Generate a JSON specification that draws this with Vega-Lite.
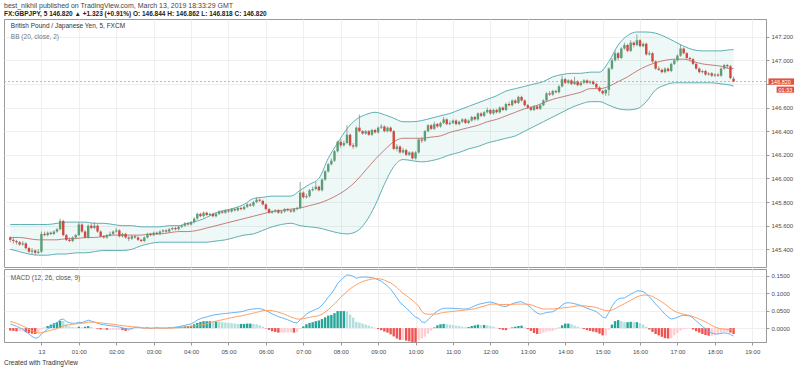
{
"$schema":"https://vega.github.io/schema/vega-lite/v6.json",
"background":"white",
"padding":{"left":3,"top":1,"right":0,"bottom":0},
"spacing":0,
"config":{"font":"Liberation Sans","view":{"stroke":"#9a9a9a","strokeWidth":1},
"axis":{"labelFontSize":6,"labelColor":"#4a4a4a","gridColor":"#efefef","domainColor":"#9a9a9a","tickColor":"#9a9a9a","tickSize":3,"title":null}},
"datasets":{
"c":[
{"m":-50,"o":145.50,"h":145.51,"l":145.46,"c":145.48,"k":0.012,"s":0.019,"g":-0.007},
{"m":-45,"o":145.48,"h":145.50,"l":145.45,"c":145.47,"k":0.009,"s":0.017,"g":-0.008},
{"m":-40,"o":145.47,"h":145.48,"l":145.44,"c":145.46,"k":0.005,"s":0.014,"g":-0.009},
{"m":-35,"o":145.46,"h":145.47,"l":145.43,"c":145.44,"k":0.001,"s":0.010,"g":-0.009},
{"m":-30,"o":145.44,"h":145.47,"l":145.43,"c":145.45,"k":-0.003,"s":0.006,"g":-0.009},
{"m":-25,"o":145.45,"h":145.46,"l":145.40,"c":145.41,"k":-0.010,"s":0.002,"g":-0.012},
{"m":-20,"o":145.41,"h":145.42,"l":145.37,"c":145.38,"k":-0.017,"s":-0.003,"g":-0.014},
{"m":-15,"o":145.38,"h":145.41,"l":145.36,"c":145.39,"k":-0.024,"s":-0.008,"g":-0.016},
{"m":-10,"o":145.39,"h":145.40,"l":145.35,"c":145.37,"k":-0.029,"s":-0.012,"g":-0.017},
{"m":-5,"o":145.37,"h":145.40,"l":145.36,"c":145.38,"k":-0.027,"s":-0.014,"g":-0.013},
{"m":0,"o":145.38,"h":145.55,"l":145.37,"c":145.53,"k":-0.017,"s":-0.013,"g":-0.004},
{"m":5,"o":145.53,"h":145.55,"l":145.51,"c":145.52,"k":-0.010,"s":-0.011,"g":0.001},
{"m":10,"o":145.52,"h":145.55,"l":145.51,"c":145.54,"k":-0.003,"s":-0.009,"g":0.006},
{"m":15,"o":145.54,"h":145.55,"l":145.52,"c":145.53,"k":0.004,"s":-0.006,"g":0.010},
{"m":20,"o":145.53,"h":145.56,"l":145.52,"c":145.55,"k":0.010,"s":-0.004,"g":0.014},
{"m":25,"o":145.55,"h":145.58,"l":145.54,"c":145.57,"k":0.016,"s":-0.001,"g":0.017},
{"m":30,"o":145.57,"h":145.66,"l":145.56,"c":145.64,"k":0.024,"s":0.003,"g":0.021},
{"m":35,"o":145.64,"h":145.65,"l":145.51,"c":145.52,"k":0.026,"s":0.006,"g":0.020},
{"m":40,"o":145.52,"h":145.53,"l":145.47,"c":145.48,"k":0.019,"s":0.008,"g":0.011},
{"m":45,"o":145.48,"h":145.50,"l":145.46,"c":145.47,"k":0.015,"s":0.010,"g":0.005},
{"m":50,"o":145.47,"h":145.51,"l":145.46,"c":145.50,"k":0.014,"s":0.011,"g":0.003},
{"m":55,"o":145.50,"h":145.53,"l":145.49,"c":145.52,"k":0.014,"s":0.012,"g":0.002},
{"m":60,"o":145.52,"h":145.63,"l":145.51,"c":145.61,"k":0.017,"s":0.013,"g":0.004},
{"m":65,"o":145.61,"h":145.62,"l":145.54,"c":145.55,"k":0.016,"s":0.014,"g":0.002},
{"m":70,"o":145.55,"h":145.56,"l":145.49,"c":145.50,"k":0.019,"s":0.015,"g":0.004},
{"m":75,"o":145.50,"h":145.61,"l":145.49,"c":145.60,"k":0.023,"s":0.017,"g":0.006},
{"m":80,"o":145.60,"h":145.62,"l":145.57,"c":145.58,"k":0.020,"s":0.017,"g":0.003},
{"m":85,"o":145.58,"h":145.63,"l":145.57,"c":145.60,"k":0.017,"s":0.017,"g":0.000},
{"m":90,"o":145.60,"h":145.61,"l":145.54,"c":145.55,"k":0.014,"s":0.016,"g":-0.002},
{"m":95,"o":145.55,"h":145.56,"l":145.50,"c":145.51,"k":0.011,"s":0.015,"g":-0.004},
{"m":100,"o":145.51,"h":145.52,"l":145.49,"c":145.50,"k":0.010,"s":0.014,"g":-0.004},
{"m":105,"o":145.50,"h":145.53,"l":145.49,"c":145.52,"k":0.008,"s":0.013,"g":-0.005},
{"m":110,"o":145.52,"h":145.55,"l":145.51,"c":145.53,"k":0.007,"s":0.012,"g":-0.005},
{"m":115,"o":145.53,"h":145.56,"l":145.52,"c":145.55,"k":0.006,"s":0.011,"g":-0.005},
{"m":120,"o":145.55,"h":145.58,"l":145.54,"c":145.56,"k":0.005,"s":0.010,"g":-0.005},
{"m":125,"o":145.56,"h":145.57,"l":145.50,"c":145.51,"k":0.003,"s":0.008,"g":-0.005},
{"m":130,"o":145.51,"h":145.54,"l":145.50,"c":145.53,"k":0.001,"s":0.007,"g":-0.006},
{"m":135,"o":145.53,"h":145.54,"l":145.49,"c":145.50,"k":-0.002,"s":0.006,"g":-0.008},
{"m":140,"o":145.50,"h":145.51,"l":145.47,"c":145.49,"k":-0.003,"s":0.005,"g":-0.008},
{"m":145,"o":145.49,"h":145.52,"l":145.48,"c":145.51,"k":-0.001,"s":0.004,"g":-0.005},
{"m":150,"o":145.51,"h":145.52,"l":145.49,"c":145.50,"k":0.002,"s":0.003,"g":-0.001},
{"m":155,"o":145.50,"h":145.51,"l":145.47,"c":145.48,"k":0.003,"s":0.002,"g":0.001},
{"m":160,"o":145.48,"h":145.49,"l":145.46,"c":145.47,"k":0.001,"s":0.001,"g":0.000},
{"m":165,"o":145.47,"h":145.51,"l":145.46,"c":145.50,"k":0.000,"s":0.000,"g":0.000},
{"m":170,"o":145.50,"h":145.54,"l":145.49,"c":145.53,"k":0.001,"s":0.000,"g":0.001},
{"m":175,"o":145.53,"h":145.54,"l":145.51,"c":145.52,"k":-0.001,"s":0.000,"g":-0.001},
{"m":180,"o":145.52,"h":145.55,"l":145.51,"c":145.54,"k":0.000,"s":0.000,"g":0.000},
{"m":185,"o":145.54,"h":145.55,"l":145.52,"c":145.53,"k":0.001,"s":0.000,"g":0.001},
{"m":190,"o":145.53,"h":145.56,"l":145.52,"c":145.55,"k":0.000,"s":0.000,"g":0.000},
{"m":195,"o":145.55,"h":145.57,"l":145.54,"c":145.56,"k":0.000,"s":0.000,"g":0.000},
{"m":200,"o":145.56,"h":145.57,"l":145.54,"c":145.55,"k":0.000,"s":0.000,"g":0.000},
{"m":205,"o":145.55,"h":145.58,"l":145.54,"c":145.57,"k":0.001,"s":0.000,"g":0.001},
{"m":210,"o":145.57,"h":145.59,"l":145.56,"c":145.58,"k":0.001,"s":0.000,"g":0.001},
{"m":215,"o":145.58,"h":145.59,"l":145.56,"c":145.57,"k":0.003,"s":0.001,"g":0.002},
{"m":220,"o":145.57,"h":145.60,"l":145.56,"c":145.59,"k":0.004,"s":0.001,"g":0.003},
{"m":225,"o":145.59,"h":145.61,"l":145.58,"c":145.60,"k":0.006,"s":0.002,"g":0.004},
{"m":230,"o":145.60,"h":145.63,"l":145.59,"c":145.62,"k":0.008,"s":0.003,"g":0.005},
{"m":235,"o":145.62,"h":145.63,"l":145.60,"c":145.61,"k":0.010,"s":0.004,"g":0.006},
{"m":240,"o":145.61,"h":145.64,"l":145.60,"c":145.63,"k":0.012,"s":0.005,"g":0.007},
{"m":245,"o":145.63,"h":145.67,"l":145.62,"c":145.66,"k":0.017,"s":0.006,"g":0.011},
{"m":250,"o":145.66,"h":145.71,"l":145.65,"c":145.70,"k":0.023,"s":0.008,"g":0.015},
{"m":255,"o":145.70,"h":145.71,"l":145.67,"c":145.68,"k":0.027,"s":0.009,"g":0.018},
{"m":260,"o":145.68,"h":145.72,"l":145.67,"c":145.71,"k":0.030,"s":0.010,"g":0.020},
{"m":265,"o":145.71,"h":145.72,"l":145.68,"c":145.69,"k":0.032,"s":0.012,"g":0.020},
{"m":270,"o":145.69,"h":145.71,"l":145.68,"c":145.70,"k":0.035,"s":0.015,"g":0.020},
{"m":275,"o":145.70,"h":145.71,"l":145.67,"c":145.68,"k":0.037,"s":0.018,"g":0.019},
{"m":280,"o":145.68,"h":145.71,"l":145.67,"c":145.70,"k":0.039,"s":0.020,"g":0.019},
{"m":285,"o":145.70,"h":145.73,"l":145.69,"c":145.72,"k":0.040,"s":0.022,"g":0.018},
{"m":290,"o":145.72,"h":145.73,"l":145.70,"c":145.71,"k":0.041,"s":0.024,"g":0.017},
{"m":295,"o":145.71,"h":145.74,"l":145.70,"c":145.73,"k":0.042,"s":0.026,"g":0.016},
{"m":300,"o":145.73,"h":145.74,"l":145.71,"c":145.72,"k":0.043,"s":0.028,"g":0.015},
{"m":305,"o":145.72,"h":145.75,"l":145.71,"c":145.74,"k":0.044,"s":0.030,"g":0.014},
{"m":310,"o":145.74,"h":145.75,"l":145.72,"c":145.73,"k":0.045,"s":0.032,"g":0.013},
{"m":315,"o":145.73,"h":145.76,"l":145.72,"c":145.75,"k":0.046,"s":0.034,"g":0.012},
{"m":320,"o":145.75,"h":145.76,"l":145.73,"c":145.74,"k":0.047,"s":0.035,"g":0.012},
{"m":325,"o":145.74,"h":145.77,"l":145.73,"c":145.76,"k":0.049,"s":0.037,"g":0.012},
{"m":330,"o":145.76,"h":145.79,"l":145.75,"c":145.78,"k":0.052,"s":0.039,"g":0.013},
{"m":335,"o":145.78,"h":145.79,"l":145.76,"c":145.77,"k":0.054,"s":0.041,"g":0.013},
{"m":340,"o":145.77,"h":145.81,"l":145.76,"c":145.80,"k":0.055,"s":0.043,"g":0.012},
{"m":345,"o":145.80,"h":145.84,"l":145.79,"c":145.82,"k":0.056,"s":0.045,"g":0.011},
{"m":350,"o":145.82,"h":145.83,"l":145.80,"c":145.81,"k":0.056,"s":0.048,"g":0.008},
{"m":355,"o":145.81,"h":145.82,"l":145.77,"c":145.78,"k":0.054,"s":0.050,"g":0.004},
{"m":360,"o":145.78,"h":145.79,"l":145.73,"c":145.74,"k":0.050,"s":0.051,"g":-0.001},
{"m":365,"o":145.74,"h":145.75,"l":145.70,"c":145.71,"k":0.046,"s":0.051,"g":-0.005},
{"m":370,"o":145.71,"h":145.73,"l":145.70,"c":145.72,"k":0.041,"s":0.050,"g":-0.009},
{"m":375,"o":145.72,"h":145.74,"l":145.71,"c":145.73,"k":0.037,"s":0.048,"g":-0.011},
{"m":380,"o":145.73,"h":145.74,"l":145.70,"c":145.71,"k":0.033,"s":0.046,"g":-0.013},
{"m":385,"o":145.71,"h":145.73,"l":145.70,"c":145.72,"k":0.030,"s":0.043,"g":-0.013},
{"m":390,"o":145.72,"h":145.75,"l":145.71,"c":145.74,"k":0.027,"s":0.040,"g":-0.013},
{"m":395,"o":145.74,"h":145.75,"l":145.72,"c":145.73,"k":0.024,"s":0.036,"g":-0.012},
{"m":400,"o":145.73,"h":145.74,"l":145.71,"c":145.72,"k":0.020,"s":0.032,"g":-0.012},
{"m":405,"o":145.72,"h":145.75,"l":145.71,"c":145.74,"k":0.016,"s":0.029,"g":-0.013},
{"m":410,"o":145.74,"h":145.76,"l":145.73,"c":145.75,"k":0.015,"s":0.026,"g":-0.011},
{"m":415,"o":145.75,"h":145.97,"l":145.74,"c":145.88,"k":0.024,"s":0.026,"g":-0.002},
{"m":420,"o":145.88,"h":145.89,"l":145.83,"c":145.84,"k":0.032,"s":0.027,"g":0.005},
{"m":425,"o":145.84,"h":145.87,"l":145.83,"c":145.85,"k":0.040,"s":0.029,"g":0.011},
{"m":430,"o":145.85,"h":145.91,"l":145.84,"c":145.90,"k":0.046,"s":0.031,"g":0.015},
{"m":435,"o":145.90,"h":145.93,"l":145.89,"c":145.91,"k":0.050,"s":0.033,"g":0.017},
{"m":440,"o":145.91,"h":145.97,"l":145.90,"c":145.93,"k":0.054,"s":0.034,"g":0.020},
{"m":445,"o":145.93,"h":145.94,"l":145.89,"c":145.90,"k":0.058,"s":0.036,"g":0.022},
{"m":450,"o":145.90,"h":146.00,"l":145.89,"c":145.99,"k":0.066,"s":0.040,"g":0.026},
{"m":455,"o":145.99,"h":146.07,"l":145.98,"c":146.06,"k":0.077,"s":0.046,"g":0.031},
{"m":460,"o":146.06,"h":146.13,"l":146.05,"c":146.12,"k":0.089,"s":0.053,"g":0.036},
{"m":465,"o":146.12,"h":146.17,"l":146.11,"c":146.15,"k":0.099,"s":0.061,"g":0.038},
{"m":470,"o":146.15,"h":146.24,"l":146.14,"c":146.23,"k":0.113,"s":0.070,"g":0.043},
{"m":475,"o":146.23,"h":146.32,"l":146.22,"c":146.31,"k":0.128,"s":0.079,"g":0.049},
{"m":480,"o":146.31,"h":146.33,"l":146.26,"c":146.28,"k":0.138,"s":0.089,"g":0.049},
{"m":485,"o":146.28,"h":146.32,"l":146.27,"c":146.30,"k":0.146,"s":0.097,"g":0.049},
{"m":490,"o":146.30,"h":146.45,"l":146.29,"c":146.37,"k":0.153,"s":0.105,"g":0.048},
{"m":495,"o":146.37,"h":146.38,"l":146.27,"c":146.28,"k":0.152,"s":0.113,"g":0.039},
{"m":500,"o":146.28,"h":146.30,"l":146.25,"c":146.27,"k":0.149,"s":0.119,"g":0.030},
{"m":505,"o":146.27,"h":146.44,"l":146.26,"c":146.43,"k":0.143,"s":0.125,"g":0.018},
{"m":510,"o":146.43,"h":146.54,"l":146.39,"c":146.40,"k":0.146,"s":0.130,"g":0.016},
{"m":515,"o":146.40,"h":146.41,"l":146.37,"c":146.38,"k":0.147,"s":0.134,"g":0.013},
{"m":520,"o":146.38,"h":146.41,"l":146.37,"c":146.40,"k":0.147,"s":0.137,"g":0.010},
{"m":525,"o":146.40,"h":146.41,"l":146.36,"c":146.37,"k":0.146,"s":0.139,"g":0.007},
{"m":530,"o":146.37,"h":146.42,"l":146.36,"c":146.41,"k":0.145,"s":0.141,"g":0.004},
{"m":535,"o":146.41,"h":146.42,"l":146.38,"c":146.39,"k":0.143,"s":0.142,"g":0.001},
{"m":540,"o":146.39,"h":146.44,"l":146.38,"c":146.43,"k":0.139,"s":0.142,"g":-0.003},
{"m":545,"o":146.43,"h":146.46,"l":146.42,"c":146.44,"k":0.135,"s":0.141,"g":-0.006},
{"m":550,"o":146.44,"h":146.45,"l":146.39,"c":146.40,"k":0.128,"s":0.138,"g":-0.010},
{"m":555,"o":146.40,"h":146.44,"l":146.39,"c":146.43,"k":0.121,"s":0.134,"g":-0.013},
{"m":560,"o":146.43,"h":146.44,"l":146.39,"c":146.40,"k":0.112,"s":0.130,"g":-0.018},
{"m":565,"o":146.40,"h":146.41,"l":146.24,"c":146.25,"k":0.100,"s":0.124,"g":-0.024},
{"m":570,"o":146.25,"h":146.29,"l":146.23,"c":146.27,"k":0.087,"s":0.117,"g":-0.030},
{"m":575,"o":146.27,"h":146.28,"l":146.21,"c":146.22,"k":0.074,"s":0.108,"g":-0.034},
{"m":580,"o":146.22,"h":146.26,"l":146.21,"c":146.24,"k":0.066,"s":0.100,"g":-0.034},
{"m":585,"o":146.24,"h":146.25,"l":146.19,"c":146.20,"k":0.058,"s":0.094,"g":-0.036},
{"m":590,"o":146.20,"h":146.23,"l":146.19,"c":146.22,"k":0.049,"s":0.087,"g":-0.038},
{"m":595,"o":146.22,"h":146.23,"l":146.16,"c":146.17,"k":0.040,"s":0.080,"g":-0.040},
{"m":600,"o":146.17,"h":146.23,"l":146.16,"c":146.22,"k":0.031,"s":0.072,"g":-0.041},
{"m":605,"o":146.22,"h":146.34,"l":146.21,"c":146.33,"k":0.028,"s":0.063,"g":-0.035},
{"m":610,"o":146.33,"h":146.35,"l":146.30,"c":146.32,"k":0.018,"s":0.048,"g":-0.030},
{"m":615,"o":146.32,"h":146.41,"l":146.31,"c":146.40,"k":0.016,"s":0.041,"g":-0.025},
{"m":620,"o":146.40,"h":146.46,"l":146.39,"c":146.45,"k":0.024,"s":0.040,"g":-0.016},
{"m":625,"o":146.45,"h":146.46,"l":146.41,"c":146.42,"k":0.033,"s":0.040,"g":-0.007},
{"m":630,"o":146.42,"h":146.48,"l":146.41,"c":146.46,"k":0.042,"s":0.040,"g":0.002},
{"m":635,"o":146.46,"h":146.47,"l":146.43,"c":146.44,"k":0.049,"s":0.041,"g":0.008},
{"m":640,"o":146.44,"h":146.48,"l":146.43,"c":146.47,"k":0.054,"s":0.043,"g":0.011},
{"m":645,"o":146.47,"h":146.52,"l":146.46,"c":146.50,"k":0.057,"s":0.045,"g":0.012},
{"m":650,"o":146.50,"h":146.51,"l":146.45,"c":146.46,"k":0.057,"s":0.046,"g":0.011},
{"m":655,"o":146.46,"h":146.49,"l":146.45,"c":146.47,"k":0.057,"s":0.047,"g":0.010},
{"m":660,"o":146.47,"h":146.50,"l":146.46,"c":146.49,"k":0.057,"s":0.048,"g":0.009},
{"m":665,"o":146.49,"h":146.50,"l":146.45,"c":146.46,"k":0.056,"s":0.049,"g":0.007},
{"m":670,"o":146.46,"h":146.49,"l":146.45,"c":146.48,"k":0.056,"s":0.050,"g":0.006},
{"m":675,"o":146.48,"h":146.51,"l":146.47,"c":146.50,"k":0.055,"s":0.051,"g":0.004},
{"m":680,"o":146.50,"h":146.51,"l":146.46,"c":146.47,"k":0.055,"s":0.052,"g":0.003},
{"m":685,"o":146.47,"h":146.50,"l":146.46,"c":146.49,"k":0.056,"s":0.053,"g":0.003},
{"m":690,"o":146.49,"h":146.53,"l":146.48,"c":146.52,"k":0.060,"s":0.054,"g":0.006},
{"m":695,"o":146.52,"h":146.53,"l":146.49,"c":146.50,"k":0.064,"s":0.056,"g":0.008},
{"m":700,"o":146.50,"h":146.56,"l":146.49,"c":146.55,"k":0.068,"s":0.058,"g":0.010},
{"m":705,"o":146.55,"h":146.56,"l":146.52,"c":146.53,"k":0.070,"s":0.061,"g":0.009},
{"m":710,"o":146.53,"h":146.57,"l":146.52,"c":146.56,"k":0.072,"s":0.063,"g":0.009},
{"m":715,"o":146.56,"h":146.60,"l":146.55,"c":146.58,"k":0.074,"s":0.066,"g":0.008},
{"m":720,"o":146.58,"h":146.59,"l":146.54,"c":146.55,"k":0.075,"s":0.069,"g":0.006},
{"m":725,"o":146.55,"h":146.59,"l":146.54,"c":146.58,"k":0.073,"s":0.069,"g":0.004},
{"m":730,"o":146.58,"h":146.59,"l":146.55,"c":146.56,"k":0.070,"s":0.069,"g":0.001},
{"m":735,"o":146.56,"h":146.61,"l":146.55,"c":146.60,"k":0.065,"s":0.068,"g":-0.003},
{"m":740,"o":146.60,"h":146.61,"l":146.57,"c":146.58,"k":0.063,"s":0.068,"g":-0.005},
{"m":745,"o":146.58,"h":146.64,"l":146.57,"c":146.63,"k":0.062,"s":0.068,"g":-0.006},
{"m":750,"o":146.63,"h":146.65,"l":146.61,"c":146.62,"k":0.066,"s":0.068,"g":-0.002},
{"m":755,"o":146.62,"h":146.67,"l":146.61,"c":146.66,"k":0.070,"s":0.068,"g":0.002},
{"m":760,"o":146.66,"h":146.67,"l":146.63,"c":146.64,"k":0.073,"s":0.069,"g":0.004},
{"m":765,"o":146.64,"h":146.70,"l":146.63,"c":146.69,"k":0.075,"s":0.069,"g":0.006},
{"m":770,"o":146.69,"h":146.70,"l":146.65,"c":146.66,"k":0.076,"s":0.069,"g":0.007},
{"m":775,"o":146.66,"h":146.67,"l":146.61,"c":146.62,"k":0.071,"s":0.069,"g":0.002},
{"m":780,"o":146.62,"h":146.63,"l":146.59,"c":146.60,"k":0.066,"s":0.069,"g":-0.003},
{"m":785,"o":146.60,"h":146.61,"l":146.57,"c":146.58,"k":0.059,"s":0.067,"g":-0.008},
{"m":790,"o":146.58,"h":146.62,"l":146.57,"c":146.61,"k":0.050,"s":0.064,"g":-0.014},
{"m":795,"o":146.61,"h":146.62,"l":146.58,"c":146.59,"k":0.043,"s":0.060,"g":-0.017},
{"m":800,"o":146.59,"h":146.63,"l":146.58,"c":146.62,"k":0.040,"s":0.057,"g":-0.017},
{"m":805,"o":146.62,"h":146.67,"l":146.61,"c":146.66,"k":0.042,"s":0.055,"g":-0.013},
{"m":810,"o":146.66,"h":146.73,"l":146.65,"c":146.72,"k":0.045,"s":0.055,"g":-0.010},
{"m":815,"o":146.72,"h":146.74,"l":146.70,"c":146.71,"k":0.046,"s":0.055,"g":-0.009},
{"m":820,"o":146.71,"h":146.75,"l":146.70,"c":146.74,"k":0.047,"s":0.055,"g":-0.008},
{"m":825,"o":146.74,"h":146.75,"l":146.72,"c":146.73,"k":0.052,"s":0.056,"g":-0.004},
{"m":830,"o":146.73,"h":146.79,"l":146.72,"c":146.78,"k":0.058,"s":0.057,"g":0.001},
{"m":835,"o":146.78,"h":146.87,"l":146.77,"c":146.84,"k":0.066,"s":0.058,"g":0.008},
{"m":840,"o":146.84,"h":146.85,"l":146.80,"c":146.81,"k":0.072,"s":0.059,"g":0.013},
{"m":845,"o":146.81,"h":146.84,"l":146.80,"c":146.83,"k":0.073,"s":0.060,"g":0.013},
{"m":850,"o":146.83,"h":146.84,"l":146.79,"c":146.80,"k":0.072,"s":0.061,"g":0.011},
{"m":855,"o":146.80,"h":146.86,"l":146.79,"c":146.82,"k":0.070,"s":0.063,"g":0.007},
{"m":860,"o":146.82,"h":146.83,"l":146.78,"c":146.79,"k":0.068,"s":0.064,"g":0.004},
{"m":865,"o":146.79,"h":146.82,"l":146.78,"c":146.81,"k":0.065,"s":0.064,"g":0.001},
{"m":870,"o":146.81,"h":146.84,"l":146.80,"c":146.83,"k":0.061,"s":0.064,"g":-0.003},
{"m":875,"o":146.83,"h":146.84,"l":146.80,"c":146.81,"k":0.057,"s":0.063,"g":-0.006},
{"m":880,"o":146.81,"h":146.83,"l":146.80,"c":146.82,"k":0.054,"s":0.062,"g":-0.008},
{"m":885,"o":146.82,"h":146.83,"l":146.79,"c":146.80,"k":0.051,"s":0.061,"g":-0.010},
{"m":890,"o":146.80,"h":146.81,"l":146.76,"c":146.77,"k":0.047,"s":0.059,"g":-0.012},
{"m":895,"o":146.77,"h":146.78,"l":146.73,"c":146.74,"k":0.040,"s":0.056,"g":-0.016},
{"m":900,"o":146.74,"h":146.75,"l":146.71,"c":146.72,"k":0.032,"s":0.053,"g":-0.021},
{"m":905,"o":146.72,"h":146.76,"l":146.70,"c":146.75,"k":0.029,"s":0.050,"g":-0.021},
{"m":910,"o":146.75,"h":146.94,"l":146.70,"c":146.93,"k":0.045,"s":0.050,"g":-0.005},
{"m":915,"o":146.93,"h":147.02,"l":146.92,"c":147.00,"k":0.062,"s":0.052,"g":0.010},
{"m":920,"o":147.00,"h":147.08,"l":146.99,"c":147.06,"k":0.076,"s":0.056,"g":0.020},
{"m":925,"o":147.06,"h":147.07,"l":147.00,"c":147.02,"k":0.084,"s":0.061,"g":0.023},
{"m":930,"o":147.02,"h":147.11,"l":147.01,"c":147.10,"k":0.086,"s":0.066,"g":0.020},
{"m":935,"o":147.10,"h":147.15,"l":147.09,"c":147.13,"k":0.087,"s":0.070,"g":0.017},
{"m":940,"o":147.13,"h":147.14,"l":147.07,"c":147.08,"k":0.092,"s":0.075,"g":0.017},
{"m":945,"o":147.08,"h":147.17,"l":147.07,"c":147.15,"k":0.098,"s":0.080,"g":0.018},
{"m":950,"o":147.15,"h":147.16,"l":147.11,"c":147.13,"k":0.102,"s":0.085,"g":0.017},
{"m":955,"o":147.13,"h":147.22,"l":147.12,"c":147.17,"k":0.107,"s":0.090,"g":0.017},
{"m":960,"o":147.17,"h":147.18,"l":147.11,"c":147.12,"k":0.107,"s":0.093,"g":0.014},
{"m":965,"o":147.12,"h":147.15,"l":147.11,"c":147.14,"k":0.105,"s":0.095,"g":0.010},
{"m":970,"o":147.14,"h":147.15,"l":147.04,"c":147.05,"k":0.099,"s":0.095,"g":0.004},
{"m":975,"o":147.05,"h":147.08,"l":147.04,"c":147.06,"k":0.090,"s":0.094,"g":-0.004},
{"m":980,"o":147.06,"h":147.07,"l":146.98,"c":146.99,"k":0.080,"s":0.091,"g":-0.011},
{"m":985,"o":146.99,"h":147.00,"l":146.92,"c":146.93,"k":0.069,"s":0.086,"g":-0.017},
{"m":990,"o":146.93,"h":146.95,"l":146.91,"c":146.92,"k":0.060,"s":0.081,"g":-0.021},
{"m":995,"o":146.92,"h":146.93,"l":146.89,"c":146.90,"k":0.050,"s":0.075,"g":-0.025},
{"m":1000,"o":146.90,"h":146.94,"l":146.89,"c":146.93,"k":0.040,"s":0.069,"g":-0.029},
{"m":1005,"o":146.93,"h":146.94,"l":146.90,"c":146.91,"k":0.032,"s":0.062,"g":-0.030},
{"m":1010,"o":146.91,"h":146.98,"l":146.90,"c":146.97,"k":0.026,"s":0.055,"g":-0.029},
{"m":1015,"o":146.97,"h":147.01,"l":146.96,"c":147.00,"k":0.028,"s":0.049,"g":-0.021},
{"m":1020,"o":147.00,"h":147.05,"l":146.99,"c":147.04,"k":0.031,"s":0.045,"g":-0.014},
{"m":1025,"o":147.04,"h":147.13,"l":147.03,"c":147.10,"k":0.035,"s":0.042,"g":-0.007},
{"m":1030,"o":147.10,"h":147.11,"l":147.05,"c":147.06,"k":0.037,"s":0.040,"g":-0.003},
{"m":1035,"o":147.06,"h":147.07,"l":147.01,"c":147.02,"k":0.036,"s":0.038,"g":-0.002},
{"m":1040,"o":147.02,"h":147.03,"l":146.99,"c":147.01,"k":0.035,"s":0.036,"g":-0.001},
{"m":1045,"o":147.01,"h":147.02,"l":146.96,"c":146.97,"k":0.029,"s":0.033,"g":-0.004},
{"m":1050,"o":146.97,"h":146.98,"l":146.92,"c":146.93,"k":0.021,"s":0.030,"g":-0.009},
{"m":1055,"o":146.93,"h":146.94,"l":146.89,"c":146.90,"k":0.013,"s":0.026,"g":-0.013},
{"m":1060,"o":146.90,"h":146.92,"l":146.89,"c":146.91,"k":0.005,"s":0.022,"g":-0.017},
{"m":1065,"o":146.91,"h":146.92,"l":146.87,"c":146.88,"k":-0.002,"s":0.018,"g":-0.020},
{"m":1070,"o":146.88,"h":146.90,"l":146.87,"c":146.89,"k":-0.009,"s":0.013,"g":-0.022},
{"m":1075,"o":146.89,"h":146.90,"l":146.86,"c":146.87,"k":-0.014,"s":0.008,"g":-0.022},
{"m":1080,"o":146.87,"h":146.89,"l":146.86,"c":146.88,"k":-0.017,"s":0.003,"g":-0.020},
{"m":1085,"o":146.88,"h":146.89,"l":146.86,"c":146.87,"k":-0.017,"s":0.000,"g":-0.017},
{"m":1090,"o":146.87,"h":146.94,"l":146.86,"c":146.93,"k":-0.015,"s":-0.002,"g":-0.013},
{"m":1095,"o":146.93,"h":146.97,"l":146.92,"c":146.96,"k":-0.014,"s":-0.003,"g":-0.011},
{"m":1100,"o":146.96,"h":146.97,"l":146.93,"c":146.95,"k":-0.015,"s":-0.004,"g":-0.011},
{"m":1105,"o":146.95,"h":146.96,"l":146.84,"c":146.85,"k":-0.018,"s":-0.005,"g":-0.013},
{"m":1110,"o":146.844,"h":146.862,"l":146.818,"c":146.820,"k":-0.023,"s":-0.006,"g":-0.017}
],
"b":[
{"m":-50,"u":145.61,"a":145.50,"d":145.40},{"m":-35,"u":145.61,"a":145.50,"d":145.38},{"m":-20,"u":145.61,"a":145.49,"d":145.36},{"m":-5,"u":145.61,"a":145.48,"d":145.35},
{"m":10,"u":145.61,"a":145.48,"d":145.35},{"m":25,"u":145.62,"a":145.48,"d":145.36},{"m":40,"u":145.63,"a":145.49,"d":145.36},{"m":55,"u":145.63,"a":145.49,"d":145.37},
{"m":70,"u":145.63,"a":145.50,"d":145.37},{"m":85,"u":145.62,"a":145.50,"d":145.38},{"m":100,"u":145.62,"a":145.51,"d":145.39},{"m":115,"u":145.61,"a":145.52,"d":145.39},
{"m":130,"u":145.60,"a":145.52,"d":145.39},{"m":145,"u":145.60,"a":145.52,"d":145.40},{"m":160,"u":145.59,"a":145.52,"d":145.43},{"m":175,"u":145.59,"a":145.53,"d":145.45},
{"m":190,"u":145.59,"a":145.53,"d":145.46},{"m":205,"u":145.60,"a":145.54,"d":145.46},{"m":220,"u":145.60,"a":145.55,"d":145.46},{"m":235,"u":145.62,"a":145.55,"d":145.46},
{"m":250,"u":145.64,"a":145.56,"d":145.46},{"m":265,"u":145.67,"a":145.58,"d":145.46},{"m":280,"u":145.71,"a":145.60,"d":145.47},{"m":295,"u":145.73,"a":145.62,"d":145.48},
{"m":310,"u":145.75,"a":145.64,"d":145.50},{"m":325,"u":145.78,"a":145.66,"d":145.52},{"m":340,"u":145.83,"a":145.68,"d":145.53},{"m":355,"u":145.84,"a":145.70,"d":145.56},
{"m":370,"u":145.85,"a":145.72,"d":145.59},{"m":385,"u":145.85,"a":145.73,"d":145.61},{"m":400,"u":145.85,"a":145.74,"d":145.62},{"m":415,"u":145.90,"a":145.75,"d":145.60},
{"m":430,"u":145.95,"a":145.77,"d":145.59},{"m":445,"u":146.00,"a":145.79,"d":145.58},{"m":460,"u":146.17,"a":145.82,"d":145.56},{"m":475,"u":146.30,"a":145.86,"d":145.54},
{"m":490,"u":146.42,"a":145.91,"d":145.53},{"m":505,"u":146.50,"a":145.98,"d":145.55},{"m":520,"u":146.54,"a":146.07,"d":145.63},{"m":535,"u":146.56,"a":146.16,"d":145.77},
{"m":550,"u":146.54,"a":146.24,"d":145.95},{"m":565,"u":146.51,"a":146.31,"d":146.10},{"m":580,"u":146.48,"a":146.34,"d":146.16},{"m":595,"u":146.48,"a":146.34,"d":146.15},
{"m":610,"u":146.49,"a":146.34,"d":146.14},{"m":625,"u":146.51,"a":146.35,"d":146.15},{"m":640,"u":146.53,"a":146.36,"d":146.17},{"m":655,"u":146.55,"a":146.39,"d":146.20},
{"m":670,"u":146.58,"a":146.41,"d":146.22},{"m":685,"u":146.61,"a":146.43,"d":146.25},{"m":700,"u":146.64,"a":146.45,"d":146.27},{"m":715,"u":146.67,"a":146.48,"d":146.30},
{"m":730,"u":146.70,"a":146.50,"d":146.32},{"m":745,"u":146.74,"a":146.53,"d":146.34},{"m":760,"u":146.76,"a":146.56,"d":146.36},{"m":775,"u":146.78,"a":146.59,"d":146.40},
{"m":790,"u":146.80,"a":146.61,"d":146.44},{"m":805,"u":146.82,"a":146.64,"d":146.48},{"m":820,"u":146.86,"a":146.67,"d":146.52},{"m":835,"u":146.88,"a":146.69,"d":146.56},
{"m":850,"u":146.89,"a":146.71,"d":146.60},{"m":865,"u":146.89,"a":146.73,"d":146.63},{"m":880,"u":146.90,"a":146.76,"d":146.65},{"m":895,"u":146.90,"a":146.76,"d":146.65},
{"m":910,"u":146.99,"a":146.78,"d":146.62},{"m":925,"u":147.13,"a":146.82,"d":146.59},{"m":940,"u":147.21,"a":146.86,"d":146.58},{"m":955,"u":147.24,"a":146.91,"d":146.59},
{"m":970,"u":147.24,"a":146.95,"d":146.65},{"m":985,"u":147.23,"a":146.98,"d":146.75},{"m":1000,"u":147.20,"a":147.00,"d":146.79},{"m":1015,"u":147.16,"a":147.01,"d":146.81},
{"m":1030,"u":147.12,"a":147.01,"d":146.81},{"m":1045,"u":147.09,"a":146.99,"d":146.81},{"m":1060,"u":147.08,"a":146.97,"d":146.81},{"m":1075,"u":147.08,"a":146.96,"d":146.81},
{"m":1090,"u":147.08,"a":146.95,"d":146.80},{"m":1105,"u":147.09,"a":146.93,"d":146.79},{"m":1110,"u":147.09,"a":146.93,"d":146.78}
]
},
"vconcat":[
{
"width":762,"height":248,
"title":{"text":"best_nikhil published on TradingView.com, March 13, 2019 18:33:29 GMT","subtitle":"FX:GBPJPY, 5  146.820 ▲ +1.323 (+0.91%)  O: 146.844  H: 146.862  L: 146.818  C: 146.820","anchor":"start","frame":"group","fontSize":7,"fontWeight":"normal","color":"#444444","subtitleFontSize":6.5,"subtitleFontWeight":"bold","subtitleColor":"#222222","offset":2,"subtitlePadding":2},
"layer":[
{"data":{"name":"b"},"mark":{"type":"area","color":"#4db6ac","opacity":0.1,"interpolate":"monotone"},
 "encoding":{"x":{"field":"m","type":"quantitative","scale":{"domain":[-52,1154],"nice":false,"zero":false},
   "axis":{"values":[0,60,120,180,240,300,360,420,480,540,600,660,720,780,840,900,960,1020,1080,1140],"labels":false,"ticks":false,"domain":false,"grid":true}},
  "y":{"field":"d","type":"quantitative","scale":{"domain":[145.25,147.35],"nice":false,"zero":false},
   "axis":{"orient":"right","tickCount":10,"grid":true,"domain":true,"labelOverlap":false,"labelSeparation":0,"labelExpr":"abs(datum.value-146.8)<0.001 ? '' : format(datum.value,'.3f')"}},
  "y2":{"field":"u"}}},
{"data":{"name":"b"},"mark":{"type":"line","color":"#5fb0b4","strokeWidth":1,"interpolate":"monotone"},
 "encoding":{"x":{"field":"m","type":"quantitative"},"y":{"field":"u","type":"quantitative"}}},
{"data":{"name":"b"},"mark":{"type":"line","color":"#5fb0b4","strokeWidth":1,"interpolate":"monotone"},
 "encoding":{"x":{"field":"m","type":"quantitative"},"y":{"field":"d","type":"quantitative"}}},
{"data":{"name":"b"},"mark":{"type":"line","color":"#b86060","strokeWidth":0.8,"interpolate":"monotone"},
 "encoding":{"x":{"field":"m","type":"quantitative"},"y":{"field":"a","type":"quantitative"}}},
{"data":{"values":[{"p":146.82}]},"mark":{"type":"rule","color":"#ef8a80","strokeDash":[2,2],"strokeWidth":0.8},
 "encoding":{"y":{"field":"p","type":"quantitative"}}},
{"data":{"name":"c"},"mark":{"type":"rule","color":"#8a8a8a","strokeWidth":0.8},
 "encoding":{"x":{"field":"m","type":"quantitative"},"y":{"field":"l","type":"quantitative"},"y2":{"field":"h"}}},
{"data":{"name":"c"},"mark":{"type":"bar","size":2.4},
 "encoding":{"x":{"field":"m","type":"quantitative"},"y":{"field":"o","type":"quantitative"},"y2":{"field":"c"},
  "color":{"condition":{"test":"datum.c>=datum.o","value":"#5a9e74"},"value":"#d2493c"}}},
{"data":{"values":[{"t":"British Pound / Japanese Yen, 5, FXCM","x":-49,"y":147.29,"k":"a"},{"t":"BB (20, close, 2)","x":-49,"y":147.2,"k":"b"}]},
 "mark":{"type":"text","align":"left","baseline":"middle","fontSize":6.5},
 "encoding":{"x":{"field":"x","type":"quantitative"},"y":{"field":"y","type":"quantitative"},"text":{"field":"t"},
  "color":{"field":"k","type":"nominal","scale":{"domain":["a","b"],"range":["#333333","#777777"]},"legend":null}}},
{"data":{"values":[{"x":1166,"x2":1207,"y":146.847,"y2":146.793},{"x":1179,"x2":1207,"y":146.778,"y2":146.726}]},
 "mark":{"type":"rect","color":"#e0533f"},
 "encoding":{"x":{"field":"x","type":"quantitative"},"x2":{"field":"x2"},"y":{"field":"y","type":"quantitative"},"y2":{"field":"y2"}}},
{"data":{"values":[{"t":"146.820","x":1186,"y":146.82},{"t":"01:33","x":1193,"y":146.752}]},
 "mark":{"type":"text","align":"center","baseline":"middle","fontSize":5.5,"color":"white"},
 "encoding":{"x":{"field":"x","type":"quantitative"},"y":{"field":"y","type":"quantitative"},"text":{"field":"t"}}}
]
},
{
"width":762,"height":73,
"title":{"text":"Created with TradingView","orient":"bottom","anchor":"start","frame":"group","fontSize":6.5,"fontWeight":"normal","color":"#333333","offset":6},
"data":{"name":"c"},
"layer":[
{"transform":[{"window":[{"op":"lag","field":"g","param":1,"as":"p"}],"sort":[{"field":"m"}]}],
 "mark":{"type":"bar","size":2.4},
 "encoding":{"x":{"field":"m","type":"quantitative","scale":{"domain":[-52,1154],"nice":false,"zero":false},
   "axis":{"values":[0,60,120,180,240,300,360,420,480,540,600,660,720,780,840,900,960,1020,1080,1140],"grid":true,"labelOverlap":false,"labelExpr":"datum.value==0?'13':(datum.value<600?'0':'')+floor(datum.value/60)+':00'","labelPadding":3}},
  "y":{"field":"g","type":"quantitative","scale":{"domain":[-0.04,0.17],"nice":false,"zero":false},
   "axis":{"orient":"right","tickCount":4,"format":".4f","grid":true,"labelOverlap":false,"labelSeparation":0}},
  "y2":{"datum":0},
  "color":{"condition":[{"test":"datum.g>=0 && datum.g>=datum.p","value":"#26a69a"},{"test":"datum.g>=0","value":"#b2dfdb"},{"test":"datum.g<datum.p","value":"#ef5350"}],"value":"#ffcdd2"}}},
{"mark":{"type":"line","color":"#64b5f6","strokeWidth":1},
 "encoding":{"x":{"field":"m","type":"quantitative"},"y":{"field":"k","type":"quantitative"}}},
{"mark":{"type":"line","color":"#ff9f63","strokeWidth":1},
 "encoding":{"x":{"field":"m","type":"quantitative"},"y":{"field":"s","type":"quantitative"}}},
{"data":{"values":[{"t":"MACD (12, 26, close, 9)","x":-49,"y":0.143}]},
 "mark":{"type":"text","align":"left","baseline":"middle","fontSize":6.5,"color":"#555555"},
 "encoding":{"x":{"field":"x","type":"quantitative"},"y":{"field":"y","type":"quantitative"},"text":{"field":"t"}}}
]
}
]
}
